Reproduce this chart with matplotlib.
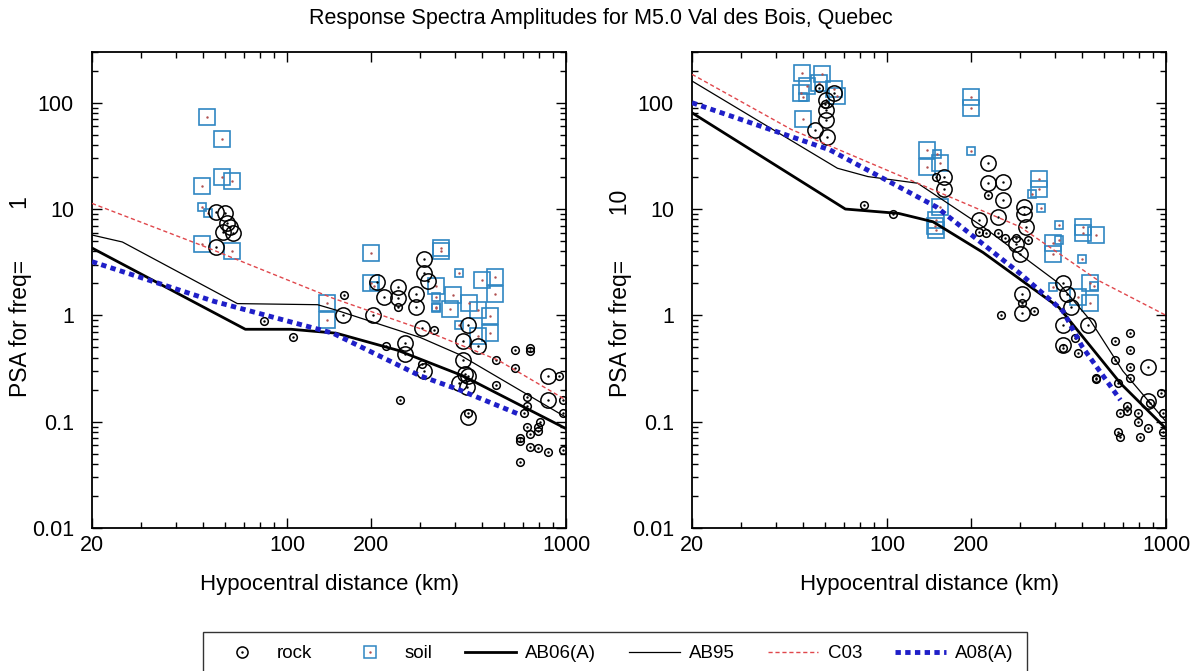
import matplotlib
matplotlib.use("Agg")
import matplotlib.pyplot as plt
from matplotlib.lines import Line2D
from matplotlib.ticker import FixedLocator, NullFormatter, LogLocator

plt.rcParams['font.family'] = ['Liberation Sans', 'DejaVu Sans']

# ---- model curves (distance km, PSA) ----
# freq = 1 Hz
ab06_d1 = [20, 70.9, 103.5, 150, 249, 427, 1000]
ab06_v1 = [4.3, 0.74, 0.74, 0.68, 0.47, 0.27, 0.086]
ab95_d1 = [20, 25.7, 66.4, 128.7, 150, 300, 413, 1000]
ab95_v1 = [5.7, 4.9, 1.29, 1.26, 1.12, 0.62, 0.43, 0.11]
c03_d1 = [20, 50, 146, 300, 570, 1000]
c03_v1 = [11.3, 4.5, 1.45, 0.75, 0.38, 0.16]
a08_d1 = [20, 55, 146, 300, 413, 686]
a08_v1 = [3.2, 1.35, 0.68, 0.27, 0.2, 0.116]

# freq = 10 Hz
ab06_d10 = [20, 70.9, 110, 146, 221, 413, 686, 1000]
ab06_v10 = [80.4, 10, 9.1, 7.6, 3.9, 1.19, 0.23, 0.086]
ab95_d10 = [20, 66.4, 85.4, 128.7, 221, 413, 535, 700, 1000]
ab95_v10 = [160, 24.2, 20.2, 17.5, 6.8, 2.0, 0.9, 0.3, 0.1]
c03_d10 = [20, 45.4, 128.7, 300, 570, 1000]
c03_v10 = [185, 56, 17.5, 6.8, 2.14, 1.0]
a08_d10 = [20, 62.4, 150, 300, 427, 500, 686]
a08_v10 = [100, 36, 10.5, 2.47, 1.1, 0.51, 0.16]

# ---- observations, freq = 1 Hz ----
rock1_big_d = [55.8, 60, 61, 59, 64, 62.5, 55.8, 310, 310, 320, 290, 290, 210, 222, 249, 249,
               159, 204, 304, 265, 265, 444, 427, 485, 427, 433, 444, 413, 440, 444, 310, 860, 860]
rock1_big_v = [9.4, 9.1, 7.4, 6.1, 5.9, 6.8, 4.4, 3.4, 2.5, 2.1, 1.6, 1.2, 2.05, 1.5, 1.85, 1.45,
               1.0, 1.0, 0.76, 0.55, 0.43, 0.82, 0.57, 0.51, 0.38, 0.28, 0.27, 0.23, 0.21, 0.11, 0.3, 0.27, 0.16]
rock1_small_d = [160, 249, 335, 226, 444, 304, 255, 83, 105, 563, 563, 655, 655, 740, 740, 727, 727,
                 706, 686, 686, 686, 727, 740, 740, 808, 796, 796, 796, 860, 944, 975, 975, 975]
rock1_small_v = [1.55, 1.2, 0.73, 0.51, 0.12, 0.35, 0.16, 0.88, 0.63, 0.38, 0.22, 0.47, 0.32, 0.49, 0.46, 0.17, 0.14,
                 0.12, 0.071, 0.066, 0.042, 0.09, 0.076, 0.058, 0.1, 0.09, 0.082, 0.056, 0.052, 0.27, 0.16, 0.12, 0.054]
soil1_big_d = [51.6, 58.4, 58.4, 63.5, 49.5, 49.5, 63.5, 200, 356, 356, 200, 500, 555, 555, 342, 393,
               385, 450, 139, 139, 535, 535, 485, 485]
soil1_big_v = [73.7, 46, 20.2, 18.2, 16.3, 4.7, 4.0, 3.9, 4.0, 4.3, 2.0, 2.14, 2.3, 1.6, 1.9, 1.55,
               1.15, 1.3, 1.3, 0.91, 0.98, 0.68, 1.13, 0.64]
soil1_small_d = [49.5, 52, 413, 342, 342, 342, 413, 205]
soil1_small_v = [10.5, 9.1, 2.5, 1.5, 1.2, 1.17, 0.82, 1.9]

# ---- observations, freq = 10 Hz ----
rock10_big_d = [60.6, 64.6, 60.6, 60.6, 55, 61, 160, 160, 230, 230, 260, 260, 249, 213, 310, 310, 315,
                290, 300, 304, 427, 440, 455, 304, 427, 427, 527, 860, 860]
rock10_big_v = [107, 124, 86, 69, 56, 48, 20, 15.5, 27, 17.5, 18, 12.2, 8.5, 7.9, 10.5, 9, 6.8,
                4.7, 3.8, 1.6, 2.0, 1.6, 1.2, 1.05, 0.82, 0.53, 0.82, 0.33, 0.155]
rock10_small_d = [57, 60, 150, 230, 249, 213, 226, 290, 320, 265, 83, 105, 304, 256, 335, 470, 485, 427,
                  560, 560, 655, 655, 740, 740, 740, 740, 674, 727, 727, 686, 674, 686, 796, 796, 808,
                  860, 960, 975, 975, 877]
rock10_small_v = [138, 97, 20, 13.5, 5.9, 6.1, 6, 5.3, 5.1, 5.4, 11, 9.0, 1.3, 1.0, 1.09, 0.61, 0.44, 0.49,
                  0.26, 0.25, 0.57, 0.38, 0.68, 0.47, 0.33, 0.26, 0.23, 0.14, 0.125, 0.12, 0.08, 0.072, 0.12, 0.1, 0.072,
                  0.087, 0.185, 0.12, 0.08, 0.15]
soil10_big_d = [49.5, 58.4, 57, 51.6, 49, 64.6, 66.4, 50, 200, 200, 139, 139, 155, 155, 150, 150, 148,
                350, 350, 393, 393, 505, 505, 560, 535, 485, 535]
soil10_big_v = [192, 185, 154, 144, 124, 134, 116, 71, 112, 90, 36, 25, 27, 10.5, 7.9, 6.3, 7,
                19, 15.5, 4.8, 3.8, 6.8, 5.9, 5.7, 2.0, 1.5, 1.3]
soil10_small_d = [50, 151, 200, 330, 355, 413, 413, 500, 550, 393]
soil10_small_v = [112, 33, 35, 14, 10.2, 7.1, 5.1, 3.4, 1.9, 1.85]

freqs = ['1', '10']
soil_color = '#2f86c2'
red = '#e0474c'
blue = '#1f1fc8'
dots = (0, (1.1, 0.9))

fig = plt.figure(figsize=(12.01, 6.71), dpi=100)
ax1 = fig.add_axes([0.0766, 0.2131, 0.3947, 0.7094])
ax2 = fig.add_axes([0.5762, 0.2131, 0.3947, 0.7094])

panels = [
    (ax1, (ab06_d1, ab06_v1), (ab95_d1, ab95_v1), (c03_d1, c03_v1), (a08_d1, a08_v1),
     (rock1_big_d, rock1_big_v), (rock1_small_d, rock1_small_v),
     (soil1_big_d, soil1_big_v), (soil1_small_d, soil1_small_v)),
    (ax2, (ab06_d10, ab06_v10), (ab95_d10, ab95_v10), (c03_d10, c03_v10), (a08_d10, a08_v10),
     (rock10_big_d, rock10_big_v), (rock10_small_d, rock10_small_v),
     (soil10_big_d, soil10_big_v), (soil10_small_d, soil10_small_v)),
]

for i, (ax, ab06, ab95, c03, a08, rb, rs, sb, ss) in enumerate(panels):
    # observations
    ax.plot(sb[0], sb[1], 's', ms=11.5, mfc='none', mec=soil_color, mew=1.2, zorder=3)
    ax.plot(ss[0], ss[1], 's', ms=6, mfc='none', mec=soil_color, mew=1.2, zorder=3)
    ax.plot(sb[0] + ss[0], sb[1] + ss[1], '.', ms=1.5, color='#b05050', zorder=3)
    ax.plot(rb[0], rb[1], 'o', ms=11, mfc='none', mec='black', mew=1.1, zorder=4)
    ax.plot(rs[0], rs[1], 'o', ms=5.5, mfc='none', mec='black', mew=1.1, zorder=4)
    ax.plot(rb[0] + rs[0], rb[1] + rs[1], '.', ms=1.5, color='black', zorder=4)
    # models
    ax.plot(ab06[0], ab06[1], '-', color='black', lw=2.0, zorder=5)
    ax.plot(ab95[0], ab95[1], '-', color='black', lw=0.9, zorder=5)
    ax.plot(c03[0], c03[1], color=red, lw=1.0, ls=(0, (3, 2)), zorder=5)
    ax.plot(a08[0], a08[1], color=blue, lw=3.5, ls=dots, zorder=5)

    ax.set_xscale('log')
    ax.set_yscale('log')
    ax.set_xlim(20, 1000)
    ax.set_ylim(0.01, 300)
    ax.xaxis.set_major_locator(FixedLocator([20, 100, 200, 1000]))
    ax.set_xticklabels(['20', '100', '200', '1000'])
    ax.xaxis.set_minor_locator(FixedLocator([30, 40, 50, 60, 70, 80, 90, 300, 400, 500, 600, 700, 800, 900]))
    ax.xaxis.set_minor_formatter(NullFormatter())
    ax.yaxis.set_major_locator(FixedLocator([0.01, 0.1, 1, 10, 100]))
    ax.set_yticklabels(['0.01', '0.1', '1', '10', '100'])
    ax.yaxis.set_minor_locator(LogLocator(base=10, subs=range(2, 10), numticks=20))
    ax.yaxis.set_minor_formatter(NullFormatter())
    ax.tick_params(which='both', direction='in', top=True, right=True, labelsize=15.5, width=1)
    ax.tick_params(which='major', length=7)
    ax.tick_params(which='minor', length=4.5)
    ax.tick_params(axis='x', pad=5)
    ax.tick_params(axis='y', pad=13)
    for sp in ax.spines.values():
        sp.set_linewidth(1.3)
    ax.set_xlabel('Hypocentral distance (km)', fontsize=16, labelpad=13)
    ax.text(-0.150, 0.275, 'PSA for freq=' + ' ' * (8 if freqs[i] == '1' else 7) + freqs[i],
            rotation=90, ha='center', va='bottom', fontsize=16.5, transform=ax.transAxes)

fig.text(0.5, 0.972, 'Response Spectra Amplitudes for M5.0 Val des Bois, Quebec',
         ha='center', va='center', fontsize=15.5)

rock_h = (Line2D([], [], marker='o', ls='none', ms=8, mfc='none', mec='black', mew=1.1),
          Line2D([], [], marker='.', ls='none', ms=1.5, color='black'))
soil_h = (Line2D([], [], marker='s', ls='none', ms=8, mfc='none', mec=soil_color, mew=1.1),
          Line2D([], [], marker='.', ls='none', ms=1.5, color='#b05050'))
handles = [rock_h, soil_h,
           Line2D([], [], color='black', lw=2.0),
           Line2D([], [], color='black', lw=0.9),
           Line2D([], [], color=red, lw=1.0, ls=(0, (3, 2))),
           Line2D([], [], color=blue, lw=3.5, ls=dots)]
labels = ['rock', 'soil', 'AB06(A)', 'AB95', 'C03', 'A08(A)']
leg = fig.legend(handles, labels, loc='upper center', bbox_to_anchor=(0.512, 0.0581), ncol=6,
                 frameon=True, fancybox=False, edgecolor='black', fontsize=13.5,
                 handlelength=2.7, columnspacing=1.75, borderpad=0.7, handletextpad=0.5,
                 borderaxespad=0)
leg.get_frame().set_linewidth(1.0)

fig.savefig('out.png', dpi=100)
